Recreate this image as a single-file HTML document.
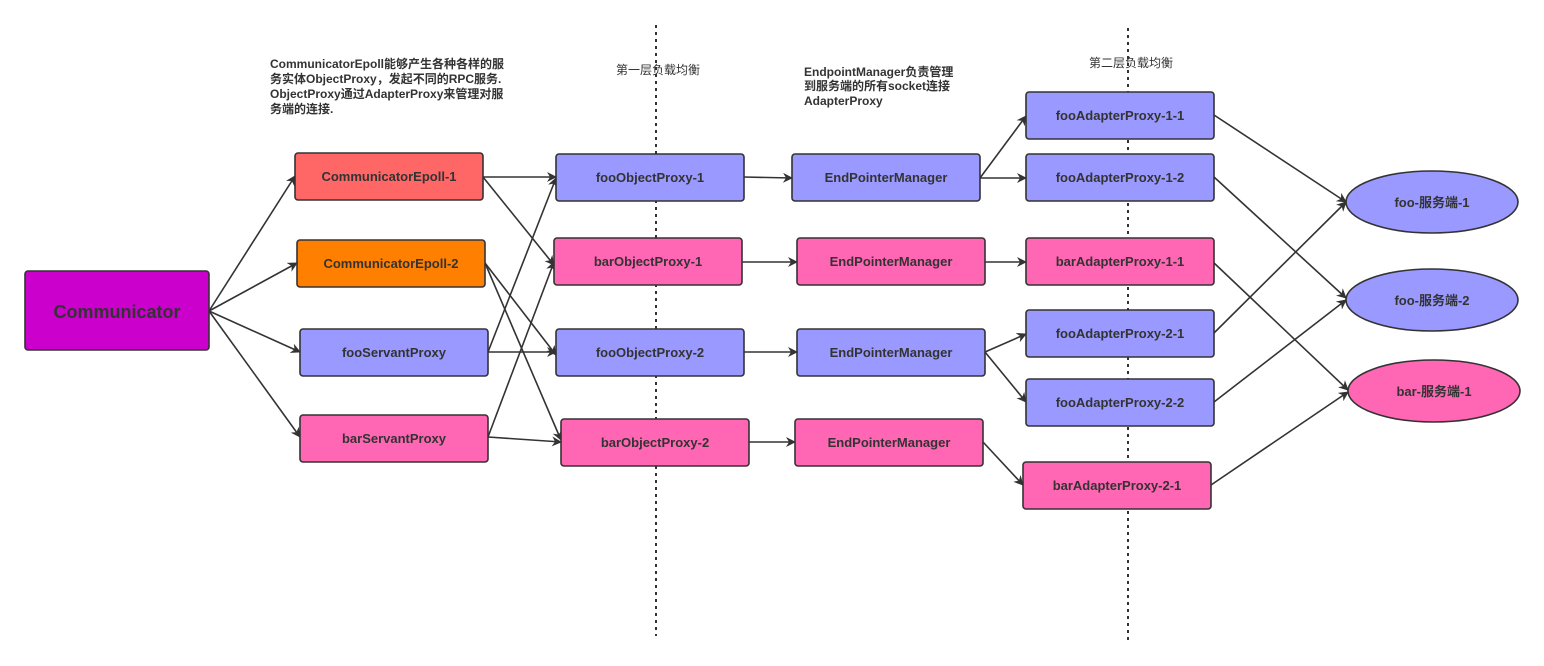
<!DOCTYPE html>
<html><head><meta charset="utf-8"><style>
html,body{margin:0;padding:0;background:#fff;width:1544px;height:666px;overflow:hidden}
svg text{font-family:"Liberation Sans","Noto Sans CJK SC",sans-serif;font-weight:bold;fill:#333}
</style></head><body>
<svg width="1544" height="666" viewBox="0 0 1544 666" xmlns="http://www.w3.org/2000/svg">
<defs><marker id="a" markerWidth="10" markerHeight="10" refX="9" refY="5" orient="auto" markerUnits="userSpaceOnUse"><path d="M0,0 L10,5 L0,10 L3,5 z" fill="#333"/></marker></defs>
<line x1="656" y1="25" x2="656" y2="636" stroke="#333" stroke-width="2" stroke-dasharray="3,4"/>
<line x1="1128" y1="28" x2="1128" y2="640" stroke="#333" stroke-width="2" stroke-dasharray="3,4"/>
<g font-size="12">
<text x="270" y="68">CommunicatorEpoll能够产生各种各样的服</text>
<text x="270" y="83">务实体ObjectProxy，发起不同的RPC服务.</text>
<text x="270" y="98">ObjectProxy通过AdapterProxy来管理对服</text>
<text x="270" y="113">务端的连接.</text>
<text x="804" y="76">EndpointManager负责管理</text>
<text x="804" y="90">到服务端的所有socket连接</text>
<text x="804" y="105">AdapterProxy</text>
</g>
<text x="616" y="74" font-size="12" style="font-weight:normal">第一层负载均衡</text>
<text x="1089" y="67" font-size="12" style="font-weight:normal">第二层负载均衡</text>
<g stroke="#333" stroke-width="1.6" fill="none" marker-end="url(#a)">
<line x1="209" y1="311" x2="295" y2="176"/>
<line x1="209" y1="311" x2="297" y2="263"/>
<line x1="209" y1="311" x2="300" y2="352"/>
<line x1="209" y1="311" x2="300" y2="437"/>
<line x1="483" y1="177" x2="556" y2="177"/>
<line x1="483" y1="177" x2="554" y2="265"/>
<line x1="485" y1="263" x2="556" y2="355"/>
<line x1="485" y1="263" x2="561" y2="440"/>
<line x1="488" y1="352" x2="556" y2="178"/>
<line x1="488" y1="352" x2="556" y2="352"/>
<line x1="488" y1="437" x2="554" y2="262"/>
<line x1="488" y1="437" x2="561" y2="442"/>
<line x1="744" y1="177" x2="792" y2="178"/>
<line x1="742" y1="262" x2="797" y2="262"/>
<line x1="744" y1="352" x2="797" y2="352"/>
<line x1="749" y1="442" x2="795" y2="442"/>
<line x1="980" y1="178" x2="1026" y2="116"/>
<line x1="980" y1="178" x2="1026" y2="178"/>
<line x1="985" y1="262" x2="1026" y2="262"/>
<line x1="985" y1="352" x2="1026" y2="334"/>
<line x1="985" y1="352" x2="1026" y2="402"/>
<line x1="983" y1="442" x2="1023" y2="485"/>
<line x1="1214" y1="115" x2="1346" y2="202"/>
<line x1="1214" y1="177" x2="1346" y2="298"/>
<line x1="1213" y1="262" x2="1348" y2="390"/>
<line x1="1214" y1="333" x2="1346" y2="202"/>
<line x1="1214" y1="402" x2="1346" y2="300"/>
<line x1="1211" y1="485" x2="1348" y2="392"/>
</g>
<g stroke="#333" stroke-width="1.6">
<rect x="25" y="271" width="184" height="79" rx="3" fill="#CC00CC"/>
<rect x="295" y="153" width="188" height="47" rx="3" fill="#FF6666"/>
<rect x="297" y="240" width="188" height="47" rx="3" fill="#FF8000"/>
<rect x="300" y="329" width="188" height="47" rx="3" fill="#9999FF"/>
<rect x="300" y="415" width="188" height="47" rx="3" fill="#FF66B3"/>
<rect x="556" y="154" width="188" height="47" rx="3" fill="#9999FF"/>
<rect x="554" y="238" width="188" height="47" rx="3" fill="#FF66B3"/>
<rect x="556" y="329" width="188" height="47" rx="3" fill="#9999FF"/>
<rect x="561" y="419" width="188" height="47" rx="3" fill="#FF66B3"/>
<rect x="792" y="154" width="188" height="47" rx="3" fill="#9999FF"/>
<rect x="797" y="238" width="188" height="47" rx="3" fill="#FF66B3"/>
<rect x="797" y="329" width="188" height="47" rx="3" fill="#9999FF"/>
<rect x="795" y="419" width="188" height="47" rx="3" fill="#FF66B3"/>
<rect x="1026" y="92" width="188" height="47" rx="3" fill="#9999FF"/>
<rect x="1026" y="154" width="188" height="47" rx="3" fill="#9999FF"/>
<rect x="1026" y="238" width="188" height="47" rx="3" fill="#FF66B3"/>
<rect x="1026" y="310" width="188" height="47" rx="3" fill="#9999FF"/>
<rect x="1026" y="379" width="188" height="47" rx="3" fill="#9999FF"/>
<rect x="1023" y="462" width="188" height="47" rx="3" fill="#FF66B3"/>
<ellipse cx="1432" cy="202" rx="86" ry="31" fill="#9999FF"/>
<ellipse cx="1432" cy="300" rx="86" ry="31" fill="#9999FF"/>
<ellipse cx="1434" cy="391" rx="86" ry="31" fill="#FF66B3"/>
</g>
<g font-size="13" text-anchor="middle">
<text x="117" y="318" font-size="18">Communicator</text>
<text x="389" y="181">CommunicatorEpoll-1</text>
<text x="391" y="268">CommunicatorEpoll-2</text>
<text x="394" y="357">fooServantProxy</text>
<text x="394" y="443">barServantProxy</text>
<text x="650" y="182">fooObjectProxy-1</text>
<text x="648" y="266">barObjectProxy-1</text>
<text x="650" y="357">fooObjectProxy-2</text>
<text x="655" y="447">barObjectProxy-2</text>
<text x="886" y="182">EndPointerManager</text>
<text x="891" y="266">EndPointerManager</text>
<text x="891" y="357">EndPointerManager</text>
<text x="889" y="447">EndPointerManager</text>
<text x="1120" y="120">fooAdapterProxy-1-1</text>
<text x="1120" y="182">fooAdapterProxy-1-2</text>
<text x="1120" y="266">barAdapterProxy-1-1</text>
<text x="1120" y="338">fooAdapterProxy-2-1</text>
<text x="1120" y="407">fooAdapterProxy-2-2</text>
<text x="1117" y="490">barAdapterProxy-2-1</text>
<text x="1432" y="207">foo-服务端-1</text>
<text x="1432" y="305">foo-服务端-2</text>
<text x="1434" y="396">bar-服务端-1</text>
</g>
</svg>
</body></html>
